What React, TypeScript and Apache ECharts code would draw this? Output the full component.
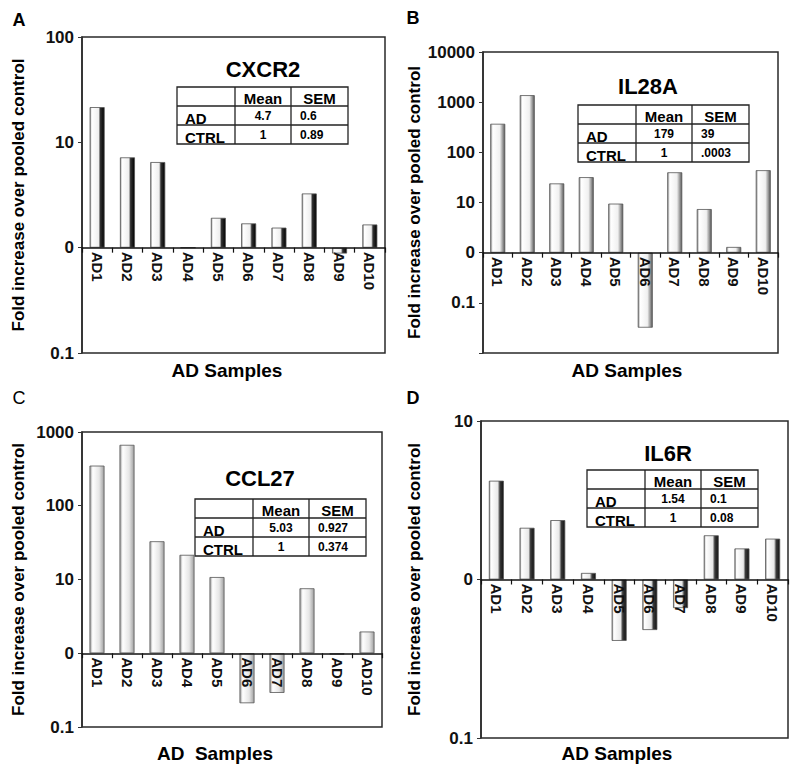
import React, { useEffect, useRef } from "react";
import * as echarts from "echarts";

const categories = ["AD1", "AD2", "AD3", "AD4", "AD5", "AD6", "AD7", "AD8", "AD9", "AD10"];

const cxcr2Values = [21.6, 7.2, 6.5, 1, 1.92, 1.7, 1.55, 3.27, 0.88, 1.66];
const il28aValues = [371, 1380, 24, 32, 9.5, 0.032, 40, 7.4, 1.3, 44];
const ccl27Values = [350, 670, 33, 21.6, 10.8, 0.21, 0.29, 7.6, 0.96, 1.97];
const il6rValues = [4.2, 2.12, 2.37, 1.1, 0.41, 0.48, 0.66, 1.9, 1.57, 1.81];

const panelLetters = ["A", "B", "C", "D"];
const geneNames = ["CXCR2", "IL28A", "CCL27", "IL6R"];
const axisMins = [0.1, 0.01, 0.1, 0.1];
const axisMaxs = [100, 10000, 1000, 10];

const tableHeader = ["Mean", "SEM"];
const tableRowLabels = ["AD", "CTRL"];
const adMeans = ["4.7", "179", "5.03", "1.54"];
const adSems = ["0.6", "39", "0.927", "0.1"];
const ctrlMeans = ["1", "1", "1", "1"];
const ctrlSems = ["0.89", ".0003", "0.374", "0.08"];

const xTitles = ["AD Samples", "AD Samples", "AD  Samples", "AD Samples"];
const yTitle = "Fold increase over pooled control";

const FONT = "'Liberation Sans', Arial, Helvetica, sans-serif";

// layout (pixels)
const grids = [
  { left: 82, top: 37, width: 303, height: 316 },
  { left: 483, top: 52, width: 295, height: 301 },
  { left: 82, top: 432, width: 300, height: 295 },
  { left: 481, top: 421, width: 307, height: 317 },
];
const nameGaps = [55, 60, 55, 58];
const letterPos = [
  [19, 20],
  [413, 18],
  [19, 398],
  [413, 398],
];
const titlePos = [
  [263, 69],
  [648, 86],
  [260, 478],
  [668, 453],
];
const xTitlePos = [
  [227, 370],
  [627, 370],
  [215, 753],
  [617, 753],
];
const tablePos = [
  [177, 87],
  [578, 105],
  [195, 499],
  [587, 470],
];

const barGradients = [
  [
    [0, "#8a8a8a"], [0.12, "#ffffff"], [0.6, "#eeeeee"], [0.72, "#333333"], [1, "#000000"],
  ],
  [
    [0, "#8a8a8a"], [0.15, "#ffffff"], [0.65, "#f0f0f0"], [0.85, "#9a9a9a"], [1, "#5a5a5a"],
  ],
  [
    [0, "#9a9a9a"], [0.2, "#ffffff"], [0.65, "#e6e6e6"], [1, "#a0a0a0"],
  ],
  [
    [0, "#8a8a8a"], [0.12, "#ffffff"], [0.6, "#e8e8e8"], [0.75, "#3a3a3a"], [1, "#111111"],
  ],
];

const allValues = [cxcr2Values, il28aValues, ccl27Values, il6rValues];

function fmtTick(v: number, min: number): string {
  if (Math.abs(Math.log10(v) - Math.log10(min)) < 1e-6 && min < 0.1) return "";
  if (v >= 0.999 && v <= 1.001) return "0";
  if (v >= 1) return String(Math.round(v));
  return String(Number(v.toPrecision(1)));
}

function buildTable(i: number) {
  const [x0, y0] = tablePos[i];
  const colW = [58, 56, 57];
  const rowH = 19;
  const totalW = colW[0] + colW[1] + colW[2];
  const totalH = rowH * 3;
  const els: any[] = [];
  els.push({
    type: "rect",
    shape: { x: x0, y: y0, width: totalW, height: totalH },
    style: { fill: "#fff", stroke: "#222", lineWidth: 1.3 },
  });
  for (let r = 1; r < 3; r++) {
    els.push({
      type: "line",
      shape: { x1: x0, y1: y0 + r * rowH, x2: x0 + totalW, y2: y0 + r * rowH },
      style: { stroke: "#222", lineWidth: 1.3 },
    });
  }
  let cx = x0;
  for (let c = 0; c < 2; c++) {
    cx += colW[c];
    els.push({
      type: "line",
      shape: { x1: cx, y1: y0, x2: cx, y2: y0 + totalH },
      style: { stroke: "#222", lineWidth: 1.3 },
    });
  }
  const c1 = x0 + colW[0];
  const c2 = c1 + colW[1];
  els.push({
    type: "text",
    style: { text: tableHeader[0], x: c1 + colW[1] / 2, y: y0 + rowH, textAlign: "center", textVerticalAlign: "bottom", font: `bold 15px ${FONT}`, fill: "#000" },
  });
  els.push({
    type: "text",
    style: { text: tableHeader[1], x: c2 + colW[2] / 2, y: y0 + rowH, textAlign: "center", textVerticalAlign: "bottom", font: `bold 15px ${FONT}`, fill: "#000" },
  });
  const rowVals = [
    [adMeans[i], adSems[i]],
    [ctrlMeans[i], ctrlSems[i]],
  ];
  for (let r = 0; r < 2; r++) {
    const yb = y0 + rowH * (r + 2);
    els.push({
      type: "text",
      style: { text: tableRowLabels[r], x: x0 + 8, y: yb + 1, textAlign: "left", textVerticalAlign: "bottom", font: `bold 15px ${FONT}`, fill: "#000" },
    });
    els.push({
      type: "text",
      style: { text: rowVals[r][0], x: c1 + colW[1] / 2, y: yb - rowH / 2, textAlign: "center", textVerticalAlign: "middle", font: `bold 12px ${FONT}`, fill: "#000" },
    });
    els.push({
      type: "text",
      style: { text: rowVals[r][1], x: c2 + 9, y: yb - rowH / 2, textAlign: "left", textVerticalAlign: "middle", font: `bold 12px ${FONT}`, fill: "#000" },
    });
  }
  return els;
}

export default function App() {
  const ref = useRef<HTMLDivElement>(null);
  useEffect(() => {
    if (!ref.current) return;
    const chart = echarts.init(ref.current, undefined, { renderer: "svg" });

    const gridOpt = grids.map((g) => ({
      left: g.left,
      top: g.top,
      width: g.width,
      height: g.height,
      show: true,
      borderColor: "#2a2a2a",
      borderWidth: 1.5,
      backgroundColor: "transparent",
      containLabel: false,
    }));

    const xAxes = grids.map((g, i) => {
      const frac = (0 - Math.log10(axisMins[i])) / (Math.log10(axisMaxs[i]) - Math.log10(axisMins[i]));
      return {
        type: "category",
        gridIndex: i,
        data: categories,
        position: "bottom",
        offset: -g.height * frac,
        z: 10,
        axisLine: { show: true, onZero: false, lineStyle: { color: "#111", width: 1.5 } },
        axisTick: { show: true, length: 5, lineStyle: { color: "#111", width: 1.2 } },
        axisLabel: {
          rotate: -90,
          margin: 4,
          interval: 0,
          fontSize: 15,
          fontWeight: "bold",
          fontFamily: FONT,
          color: "#111",
        },
        splitLine: { show: false },
      };
    });

    const yAxes = grids.map((g, i) => ({
      type: "log",
      logBase: 10,
      gridIndex: i,
      min: axisMins[i],
      max: axisMaxs[i],
      splitNumber: Math.round(Math.log10(axisMaxs[i]) - Math.log10(axisMins[i])),
      name: yTitle,
      nameLocation: "middle",
      nameGap: nameGaps[i],
      nameTextStyle: { fontSize: 17, fontWeight: "bold", fontFamily: FONT, color: "#000" },
      axisLine: { show: true, lineStyle: { color: "#2a2a2a", width: 1.5 } },
      axisTick: { show: true, length: 4, lineStyle: { color: "#333" } },
      axisLabel: {
        fontSize: 17,
        fontWeight: "bold",
        fontFamily: FONT,
        color: "#111",
        margin: 8,
        formatter: (v: number) => fmtTick(v, axisMins[i]),
      },
      splitLine: { show: false },
      minorTick: { show: false },
    }));

    const series = allValues.map((vals, i) => ({
      type: "bar",
      name: geneNames[i],
      xAxisIndex: i,
      yAxisIndex: i,
      data: vals,
      barWidth: 15,
      z: 2,
      itemStyle: {
        color: new echarts.graphic.LinearGradient(
          0, 0, 1, 0,
          barGradients[i].map(([o, c]) => ({ offset: o as number, color: c as string }))
        ),
        borderColor: "#555",
        borderWidth: 0.8,
      },
    }));

    const graphics: any[] = [];
    for (let i = 0; i < 4; i++) {
      graphics.push({
        type: "text",
        style: {
          text: panelLetters[i],
          x: letterPos[i][0],
          y: letterPos[i][1],
          textAlign: "center",
          textVerticalAlign: "middle",
          font: `${i === 2 ? "normal" : "bold"} 18px ${FONT}`,
          fill: "#000",
        },
      });
      graphics.push({
        type: "text",
        style: {
          text: geneNames[i],
          x: titlePos[i][0],
          y: titlePos[i][1],
          textAlign: "center",
          textVerticalAlign: "middle",
          font: `bold 22px ${FONT}`,
          fill: "#000",
        },
      });
      graphics.push({
        type: "text",
        style: {
          text: xTitles[i],
          x: xTitlePos[i][0],
          y: xTitlePos[i][1],
          textAlign: "center",
          textVerticalAlign: "middle",
          font: `bold 19px ${FONT}`,
          fill: "#000",
        },
      });
      graphics.push(...buildTable(i));
    }

    chart.setOption({
      animation: false,
      backgroundColor: "#fff",
      grid: gridOpt,
      xAxis: xAxes,
      yAxis: yAxes,
      series,
      graphic: { elements: graphics },
    });

    return () => {
      chart.dispose();
    };
  }, []);

  return (
    <div
      ref={ref}
      style={{ position: "absolute", left: 0, top: 0, width: 800, height: 773 }}
    />
  );
}
